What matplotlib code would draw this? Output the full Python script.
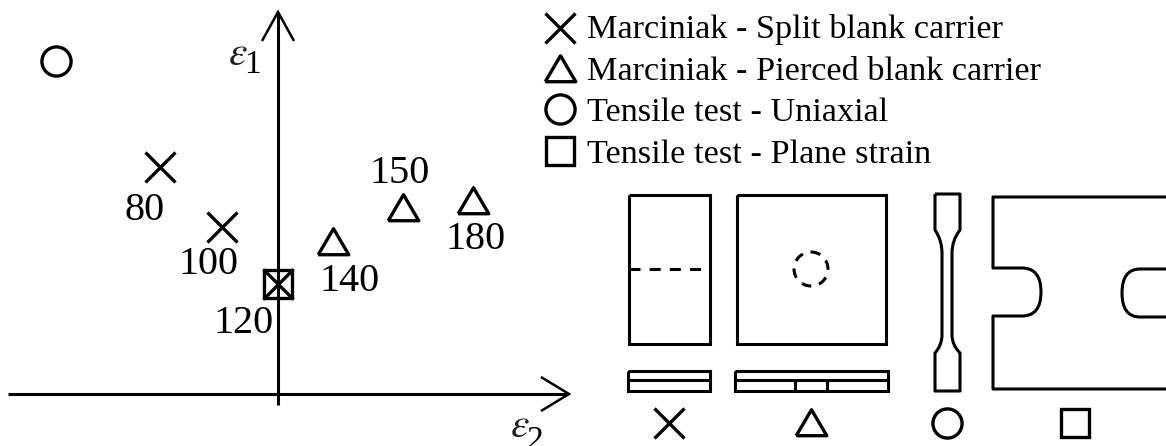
import matplotlib
matplotlib.use("Agg")
import matplotlib.pyplot as plt
from matplotlib.path import Path
from matplotlib.patches import PathPatch, Circle

plt.rcParams['font.family'] = ['Liberation Serif', 'DejaVu Serif']
plt.rcParams['mathtext.fontset'] = 'stix'

# marker positions in pixels
split_x = [160, 222, 278]
split_y = [167, 227, 284]
split_labels = ["80", "100", "120"]
split_label_x = [145, 209, 244]
split_label_y = [220, 274, 333]

pierced_x = [333, 403, 473]
pierced_y = [242, 208, 201]
pierced_labels = ["140", "150", "180"]
pierced_label_x = [350, 400, 476]
pierced_label_y = [291, 183, 249]

uniaxial_x = [56]
uniaxial_y = [61]
plane_x = [278]
plane_y = [284]

legend_labels = ["Marciniak - Split blank carrier", "Marciniak - Pierced blank carrier",
                 "Tensile test - Uniaxial", "Tensile test - Plane strain"]
legend_y = [38, 80, 121, 163]
legend_marker_y = [28, 69, 109, 151]
bottom_x = [669, 811, 947, 1075]

# flat triangle, a bit wider than tall
TRIANGLE = [(-1, -0.8), (1, -0.8), (0, 0.9), (-1, -0.8)]
markers = ['x', TRIANGLE, 'o', 's']
sizes = [21, 22, 21, 20]

fig = plt.figure(figsize=(11.66, 4.46), dpi=100)
ax = fig.add_axes([0, 0, 1, 1])
ax.set_xlim(0, 1166)
ax.set_ylim(446, 0)
ax.axis('off')

LW = 2.2

def line(xs, ys, **kw):
  kw.setdefault('lw', LW)
  ax.plot(xs, ys, color='black', solid_capstyle='butt', solid_joinstyle='miter', **kw)

def mark(xs, ys, m, size):
  ax.plot(xs, ys, ls='none', marker=m, ms=size, mfc='none', mec='black', mew=2.4, zorder=5)

def curve(verts, codes):
  ax.add_patch(PathPatch(Path(verts, codes), fc='none', ec='black', lw=LW, joinstyle='round'))

# axes with open arrow heads
line([278, 278], [405, 12])
line([262, 278, 294], [41, 12, 41], lw=1.8)
line([8, 568], [394, 394])
line([541, 569, 541], [377, 394, 411], lw=1.8)
ax.text(238, 55, r"$\varepsilon$", fontsize=30, color='#222222', ha='center', va='center')
ax.text(252, 73, "1", fontsize=24, ha='center', va='baseline')
ax.text(520, 427, r"$\varepsilon$", fontsize=30, color='#222222', ha='center', va='center')
ax.text(535, 449, "2", fontsize=24, ha='center', va='baseline')

# data points
mark(split_x, split_y, 'x', 21)
mark(pierced_x, pierced_y, TRIANGLE, 22)
mark(uniaxial_x, uniaxial_y, 'o', 21)
mark(plane_x, plane_y, 's', 20)
for x, y, s in zip(split_label_x + pierced_label_x, split_label_y + pierced_label_y, split_labels + pierced_labels):
  ax.text(x, y, s, fontsize=29, ha='center', va='baseline')

# legend
for y, my, s, m, size in zip(legend_y, legend_marker_y, legend_labels, markers, sizes):
  mark([560], [my], m, size)
  ax.text(587, y, s, fontsize=24.7, ha='left', va='baseline')

# symbols under the specimens
for x, m, size in zip(bottom_x, markers, sizes):
  mark([x], [423], m, size)

# split blank carrier
line([629, 710, 710, 629, 629], [195, 195, 344, 344, 195])
ax.plot([629, 710], [269, 269], color='black', lw=LW, ls=(0, (3.6, 3)))
line([628, 710, 710, 628, 628], [371, 371, 391, 391, 371])
line([628, 710], [380, 380])

# pierced blank carrier
line([737, 886, 886, 737, 737], [195, 195, 344, 344, 195])
ax.add_patch(Circle((811, 269), 17, fc='none', ec='black', lw=LW, ls=(0, (3.2, 2.6))))
line([735, 888, 888, 735, 735], [371, 371, 391, 391, 371])
line([735, 888], [380, 380])
line([795, 795], [380, 391])
line([827, 827], [380, 391])

# uniaxial tensile specimen
M, L, C = Path.MOVETO, Path.LINETO, Path.CURVE3
curve([(935, 194), (960, 194), (960, 230), (952, 240), (952, 253), (952, 335), (952, 345), (960, 353),
       (960, 391), (935, 391), (935, 353), (942, 345), (942, 335), (942, 253), (942, 240), (935, 230), (935, 194)],
      [M, L, L, C, C, L, C, C, L, L, L, C, C, L, C, C, L])

# plane strain specimen, runs off the right edge
curve([(1170, 197), (993, 197), (993, 268), (1022, 268), (1041, 268), (1041, 292), (1041, 316), (1022, 316),
       (993, 316), (993, 389), (1170, 389)],
      [M, L, L, L, C, C, C, C, L, L, L])
curve([(1170, 269), (1140, 269), (1122, 269), (1122, 293), (1122, 317), (1140, 317), (1170, 317)],
      [M, L, C, C, C, C, L])

fig.savefig("out.png", dpi=100)
